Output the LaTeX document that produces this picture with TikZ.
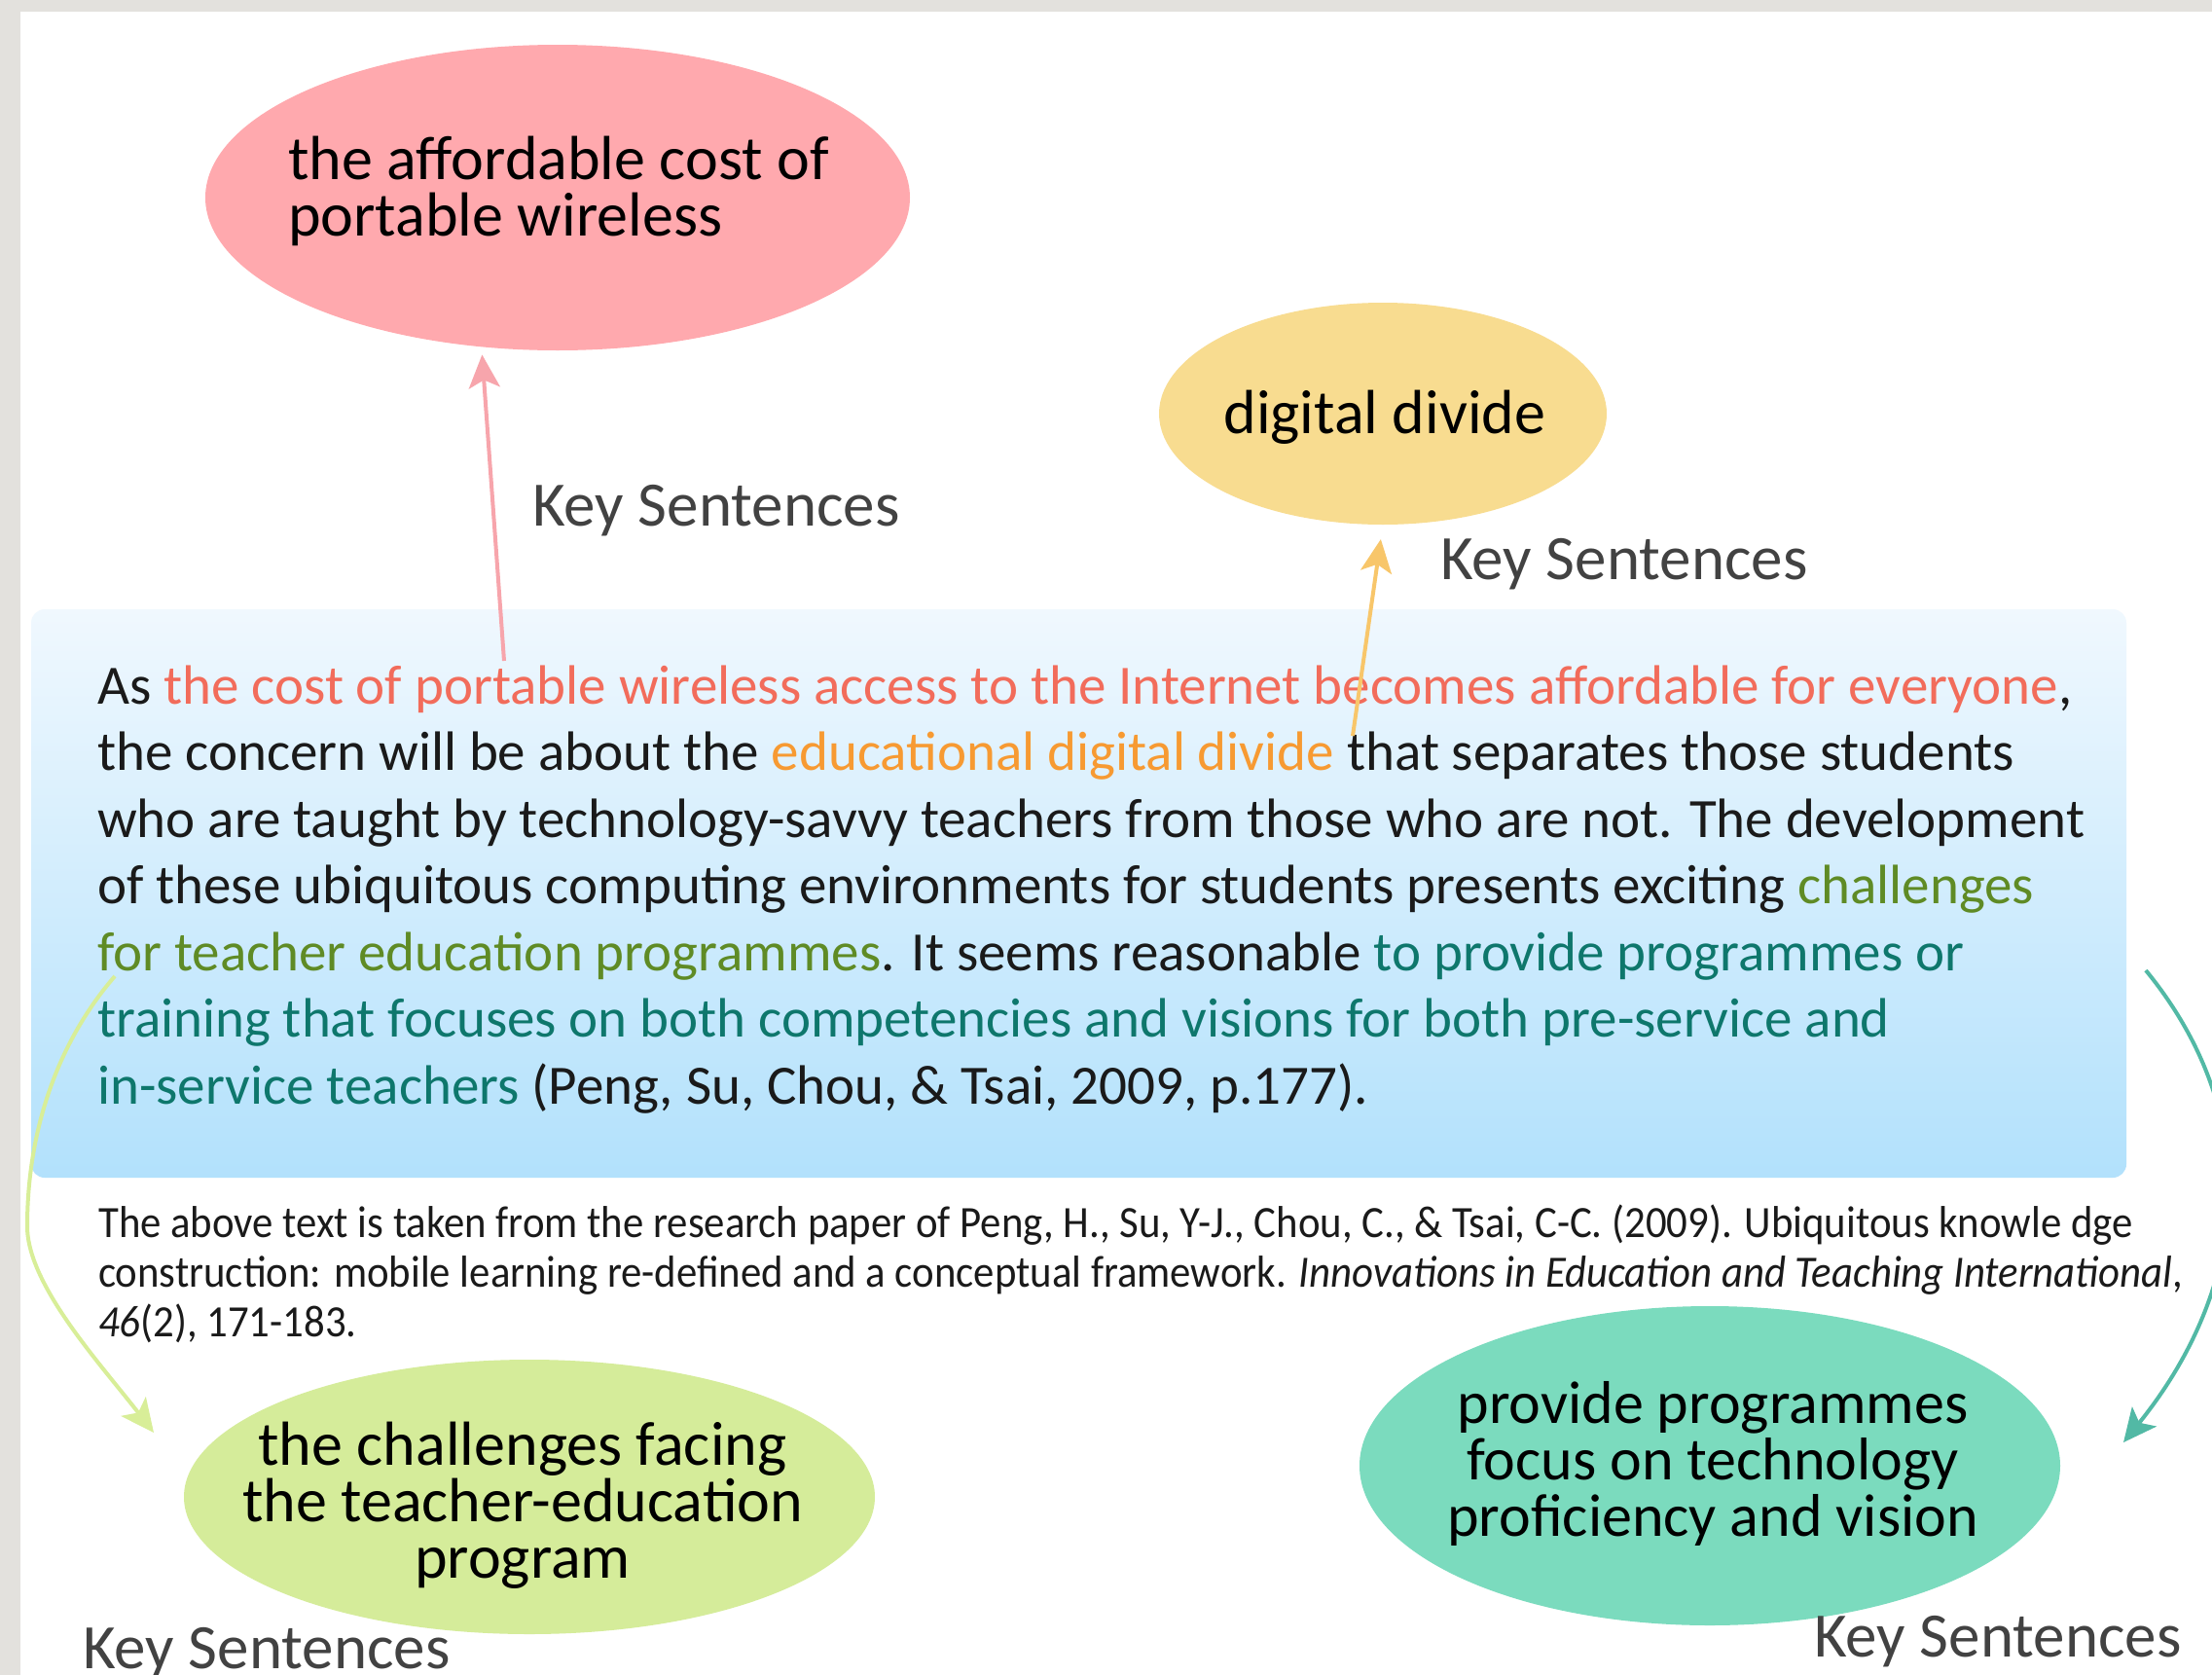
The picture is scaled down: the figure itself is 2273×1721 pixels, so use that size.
\documentclass[tikz,border=0pt]{standalone}
\usepackage{fontspec}
\setmainfont{Carlito}
\newfontfamily\citefont{Carlito}[FakeStretch=0.93]
\usetikzlibrary{shapes.geometric,arrows.meta}

\definecolor{edge}{HTML}{E3E1DD}
\definecolor{boxtop}{HTML}{F0F8FE}
\definecolor{boxbot}{HTML}{B2E1FC}
\definecolor{pinkfill}{HTML}{FFA9AE}
\definecolor{pinkline}{HTML}{F7A5AC}
\definecolor{yelfill}{HTML}{F8DC90}
\definecolor{yelline}{HTML}{F8C66A}
\definecolor{grnfill}{HTML}{D5EC9A}
\definecolor{grnline}{HTML}{D8EE98}
\definecolor{tealfill}{HTML}{7BDBBE}
\definecolor{tealline}{HTML}{52B9A5}
\definecolor{costred}{HTML}{F26C5B}
\definecolor{divorange}{HTML}{F79A32}
\definecolor{challgreen}{HTML}{5F8B25}
\definecolor{provteal}{HTML}{0E776C}
\definecolor{keygray}{HTML}{424242}
\definecolor{ink}{HTML}{1A1A1A}

\tikzset{
  blob/.style={ellipse, inner sep=0pt},
  tag/.style={font=\fontsize{64}{58}\selectfont, text=black, align=center, inner sep=0pt},
  keysent/.style={font=\fontsize{65}{70}\selectfont, text=keygray, anchor=base west, inner sep=0pt},
  link/.style={line width=4pt, -{Stealth[length=34pt,width=32pt,inset=8pt]}},
}

\begin{document}
\begin{tikzpicture}[x=1pt,y=-1pt]
  \useasboundingbox (0,0) rectangle (2273,1721);
  \fill[white] (0,0) rectangle (2273,1721);
  \fill[edge] (0,0) rectangle (2273,12);
  \fill[edge] (0,0) rectangle (21,1721);

  % passage box
  \shade[top color=boxtop, bottom color=boxbot, rounded corners=14pt]
    (32,626) rectangle (2185,1210);
  % base of a multi-line node is its last line
  \node[anchor=base west, align=left, inner sep=0pt, text=ink,
        font=\fontsize{57}{68.5}\selectfont] (passage) at (100,1134)
    {As \textcolor{costred}{the cost of portable wireless access to the Internet becomes affordable for everyone},\\
     the concern will be about the \textcolor{divorange}{educational digital divide} that separates those students\\
     who are taught by technology-savvy teachers from those who are not. The development\\
     of these ubiquitous computing environments for students presents exciting \textcolor{challgreen}{challenges}\\
     \textcolor{challgreen}{for teacher education programmes}. It seems reasonable \textcolor{provteal}{to provide programmes or}\\
     \textcolor{provteal}{training that focuses on both competencies and visions for both pre-service and}\\
     \textcolor{provteal}{in-service teachers} (Peng, Su, Chou, \& Tsai, 2009, p.177).};
  \node[anchor=base west, align=left, inner sep=0pt, text=ink,
        font=\citefont\fontsize{46}{51}\selectfont] (source) at (101,1373)
    {The above text is taken from the research paper of Peng, H., Su, Y-J., Chou, C., \& Tsai, C-C. (2009). Ubiquitous knowle dge\\
     construction: mobile learning re-defined and a conceptual framework. \textit{Innovations in Education and Teaching International},\\
     \textit{46}(2), 171-183.};

  % key ideas
  \node[blob, fill=pinkfill, minimum width=724pt, minimum height=314pt] (cost) at (573,203) {};
  \node[tag, align=left] (costtext) at (574,196) {the affordable cost of\\portable wireless};
  \node[blob, fill=yelfill, minimum width=460pt, minimum height=228pt] (divide) at (1421,425) {};
  \node[tag, anchor=base] (dividetext) at (1423,445) {digital divide};
  \node[blob, fill=grnfill, minimum width=710pt, minimum height=282pt] (chall) at (544,1538) {};
  \node[tag] (challtext) at (537,1547) {the challenges facing\\the teacher-education\\program};
  \node[blob, fill=tealfill, minimum width=720pt, minimum height=328pt] (prov) at (1757,1506) {};
  \node[tag, font=\fontsize{62}{58}\selectfont] (provtext) at (1760,1504)
    {provide programmes\\focus on technology\\proficiency and vision};

  \node[keysent] (key1) at (547,540) {Key Sentences};
  \node[keysent] (key2) at (1480,595) {Key Sentences};
  \node[keysent] (key3) at (85,1714) {Key Sentences};
  \node[keysent] (key4) at (1864,1702) {Key Sentences};

  % links from the passage
  \coordinate (costfoot) at (518,679);
  \coordinate (dividefoot) at (1390,756);
  \coordinate (challfoot) at (118,1003);
  \coordinate (challtip) at (158,1472);
  \coordinate (provfoot) at (2205,997);
  \coordinate (provtip) at (2182,1482);
  \draw[link, draw=pinkline, shorten >=8pt] (costfoot) -- (cost.243);
  \draw[link, draw=yelline, shorten >=15pt] (dividefoot) -- (divide.south);
  \draw[link, draw=grnline] (challfoot) .. controls (60,1070) and (28,1160) .. (28,1260)
    .. controls (28,1320) and (103,1401) .. (challtip);
  \begin{scope}
    \clip (0,0) rectangle (2273,1721);
    \draw[link, draw=tealline] (provfoot) .. controls (2331,1151) and (2308,1326) .. (provtip);
  \end{scope}
\end{tikzpicture}
\end{document}
